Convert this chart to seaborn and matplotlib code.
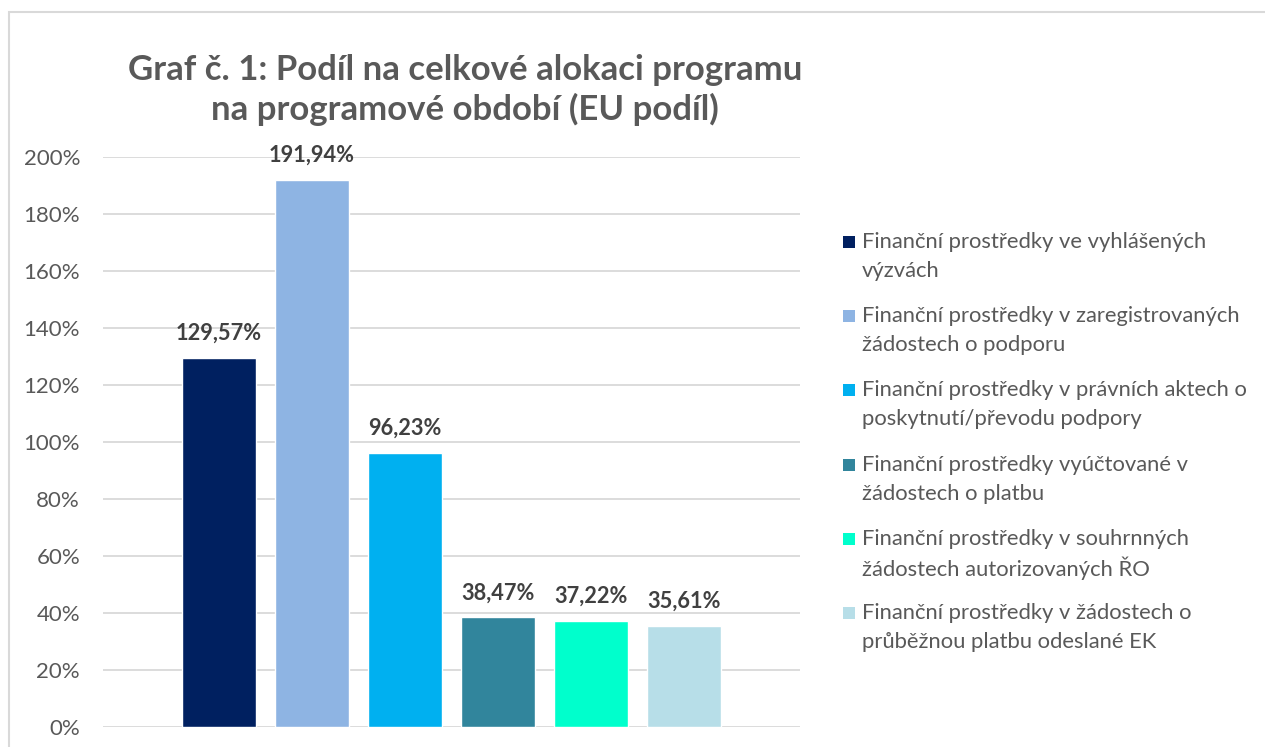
import matplotlib
matplotlib.use("Agg")
import matplotlib.pyplot as plt
from matplotlib.patches import Rectangle
import seaborn as sns
import pandas as pd

series = [
    "Finanční prostředky ve vyhlášených\nvýzvách",
    "Finanční prostředky v zaregistrovaných\nžádostech o podporu",
    "Finanční prostředky v právních aktech o\nposkytnutí/převodu podpory",
    "Finanční prostředky vyúčtované v\nžádostech o platbu",
    "Finanční prostředky v souhrnných\nžádostech autorizovaných ŘO",
    "Finanční prostředky v žádostech o\nprůběžnou platbu odeslané EK",
]
values = [129.57, 191.94, 96.23, 38.47, 37.22, 35.61]
colors = ["#002060", "#8EB4E3", "#00B0F0", "#31859C", "#00FFCC", "#B7DEE8"]
yticks = [0, 20, 40, 60, 80, 100, 120, 140, 160, 180, 200]
title_lines = ["Graf č. 1: Podíl na celkové alokaci programu",
               "na programové období (EU podíl)"]

sns.set_style("white")
plt.rcParams["font.family"] = ["Lato", "DejaVu Sans"]

W, H = 1265, 747
fig = plt.figure(figsize=(W / 100, H / 100), dpi=100)

# outer chart frame (top and left edges visible)
fig.patches.append(Rectangle((9 / W, -0.1), 2.0, 1 - 12 / H + 0.1, transform=fig.transFigure,
                             fill=False, edgecolor="#D9D9D9", linewidth=1.5, zorder=0))

ax = fig.add_axes([103 / W, 1 - 727 / H, (800 - 103) / W, (727 - 157) / H])
df = pd.DataFrame({"series": series, "value": values})
sns.barplot(data=df, x="series", y="value", hue="series", palette=colors,
            dodge=False, width=0.8, legend=False, ax=ax, saturation=1, zorder=3)

ax.set_ylim(0, 200)
ax.set_xlim(-1.247, 6.247)
ax.set_yticks(yticks)
ax.set_yticklabels([f"{v}%" for v in yticks], fontsize=16, color="#595959")
ax.set_xticks([])
ax.set_xlabel("")
ax.set_ylabel("")
ax.grid(axis="y", color="#D9D9D9", linewidth=1.3, zorder=0)
ax.set_axisbelow(True)
for s in ax.spines.values():
    s.set_visible(False)
ax.tick_params(axis="y", length=0, pad=16.5)

for i, v in enumerate(values):
    ax.annotate(f"{v:.2f}%".replace(".", ","), (i, v), xytext=(0, 17.5), textcoords="offset points",
                ha="center", va="center", fontsize=15.7, fontweight="bold", color="#404040")

for k, line in enumerate(title_lines):
    fig.text(465 / W, 1 - (70 + k * 39) / H, line, ha="center", va="center", fontsize=25,
             fontweight="bold", color="#595959")

# legend
y0 = 242
for i, (lab, c) in enumerate(zip(series, colors)):
    y = y0 + i * 74.2
    fig.patches.append(Rectangle((843 / W, 1 - (y + 6) / H), 12 / W, 12 / H,
                                 transform=fig.transFigure, facecolor=c, edgecolor="none"))
    for j, part in enumerate(lab.split("\n")):
        fig.text(862 / W, 1 - (y - 2 + j * 29) / H, part, ha="left", va="center_baseline",
                 fontsize=15.8, color="#595959")

fig.savefig("out.png", dpi=100)
